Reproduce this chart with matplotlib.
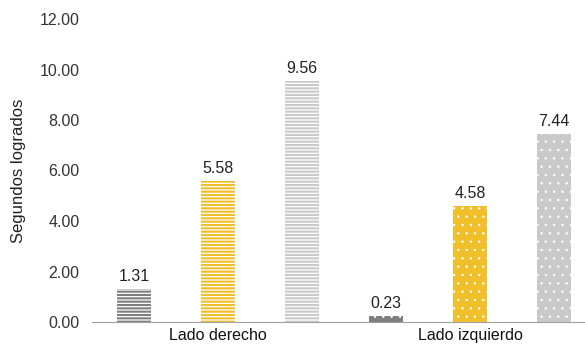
import numpy as np
import matplotlib.pyplot as plt

plt.rcParams['font.family'] = ['Liberation Sans', 'DejaVu Sans']

categories = ['Lado derecho', 'Lado izquierdo']
serie_1 = [1.31, 0.23]
serie_2 = [5.58, 4.58]
serie_3 = [9.56, 7.44]
colors = ['#7f7f7f', '#f0bf2a', '#c9c9c9']
yticks = [0, 2, 4, 6, 8, 10, 12]

fig = plt.figure(figsize=(5.85, 3.5), dpi=100)
ax = fig.add_axes([92 / 585, 28 / 350, 493 / 585, 303 / 350])

x = np.arange(len(categories))
width = 0.135
offsets = [-0.333, 0, 0.333]
series = [serie_1, serie_2, serie_3]

for s, off, col in zip(series, offsets, colors):
    for i, v in enumerate(s):
        if i == 0:
            # horizontal stripes on white
            with plt.rc_context({'hatch.linewidth': 1.5}):
                ax.bar(x[i] + off, v, width, facecolor='white', edgecolor=col,
                       hatch='-----', linewidth=0)
        else:
            # small white dots on colour
            with plt.rc_context({'hatch.linewidth': 0.5}):
                ax.bar(x[i] + off, v, width, facecolor=col, edgecolor='white',
                       hatch='..', linewidth=0)
        ax.text(x[i] + off, v + 0.2, f'{v:.2f}', ha='center', va='bottom',
                fontsize=11.5, color='#222222')

ax.set_xlim(-0.5, 1 + 115 / 252)
ax.set_ylim(0, 12)
ax.set_yticks(yticks)
ax.set_yticklabels([f'{t:.2f}' for t in yticks], fontsize=11.5, color='#333333')
ax.set_xticks(x)
ax.set_xticklabels(categories, fontsize=11.5, color='#111111')
ax.set_ylabel('Segundos logrados', fontsize=12, color='#222222', labelpad=10)

for sp in ['top', 'right', 'left']:
    ax.spines[sp].set_visible(False)
ax.spines['bottom'].set_color('#a0a0a0')
ax.tick_params(axis='both', length=0, pad=9)
ax.tick_params(axis='x', pad=4)

fig.savefig('out.png', dpi=100)
